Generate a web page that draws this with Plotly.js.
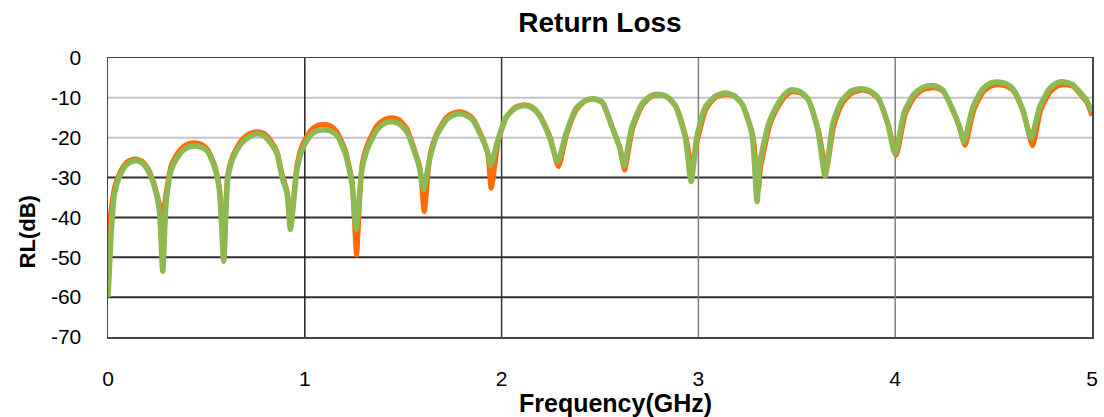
<!DOCTYPE html>
<html>
<head>
<meta charset="utf-8">
<script src="https://cdn.plot.ly/plotly-3.0.1.min.js"></script>
<style>html,body{margin:0;padding:0;background:#fff;}#chart{width:1104px;height:417px;}</style>
</head>
<body>
<div id="chart"></div>
<script>
// Orange series (frequency GHz, return loss dB)
const orangeFreq = [0,0.008,0.016,0.033,0.058,0.092,0.12,0.146,0.175,0.202,0.236,0.261,0.278,0.295,0.321,0.354,0.388,0.418,0.448,0.48,0.507,0.541,0.566,0.588,0.608,0.634,0.676,0.718,0.76,0.795,0.828,0.859,0.884,0.91,0.93,0.96,0.986,1.028,1.06,1.095,1.13,1.163,1.206,1.24,1.263,1.29,1.316,1.366,1.405,1.443,1.48,1.519,1.561,1.585,1.607,1.637,1.67,1.718,1.75,1.786,1.82,1.854,1.905,1.93,1.947,1.985,2.025,2.07,2.118,2.157,2.195,2.246,2.289,2.33,2.38,2.422,2.465,2.512,2.564,2.603,2.625,2.665,2.716,2.758,2.801,2.843,2.886,2.937,2.968,2.996,3.039,3.089,3.139,3.183,3.225,3.277,3.305,3.316,3.345,3.365,3.408,3.444,3.475,3.519,3.56,3.611,3.65,3.688,3.73,3.78,3.83,3.874,3.915,3.966,4.005,4.052,4.102,4.145,4.186,4.22,4.248,4.298,4.33,4.355,4.4,4.451,4.49,4.527,4.565,4.603,4.654,4.698,4.74,4.79,4.826,4.866,4.905,4.942,4.975,5.0];
const orangeRL = [-48,-42,-38,-32.5,-29,-26.3,-25.5,-25.4,-26,-27.6,-31.8,-36.5,-40,-34,-27,-23.8,-22,-21.4,-21.3,-21.8,-23,-26.8,-32.5,-47,-29.5,-24.5,-20.8,-19,-18.5,-19,-20.8,-23.5,-29,-33.5,-41,-27,-22,-18.3,-17,-16.7,-17,-18.5,-23.2,-31,-49.4,-27,-22,-17,-15.4,-15,-15.5,-17.8,-23.5,-27.5,-38.5,-24,-19,-15,-13.9,-13.5,-13.9,-15.2,-20.3,-24,-32.7,-20.6,-14.8,-12.3,-11.7,-12.3,-14.4,-19.8,-27.3,-19.3,-13,-10.9,-10.3,-11.2,-17.6,-22.8,-28.1,-17.8,-11.8,-9.8,-9.3,-9.9,-12.2,-20,-27.5,-20.5,-12.8,-9.8,-9.1,-9.6,-11.8,-19.5,-33.1,-27.5,-20.5,-16.5,-12,-9.5,-8.5,-8.8,-10.6,-18.5,-27.7,-17,-11.5,-8.8,-8.1,-8.6,-10.3,-17,-24.4,-14,-9.5,-7.9,-7.5,-7.7,-8.6,-13.8,-17.8,-21.9,-13,-8.3,-7,-6.7,-7.1,-8.4,-14,-22,-13,-8.4,-7,-6.7,-7.2,-9.2,-11.3,-14.5];

// Green series (frequency GHz, return loss dB)
const greenFreq = [0,0.008,0.016,0.033,0.058,0.092,0.12,0.146,0.175,0.202,0.236,0.261,0.278,0.295,0.321,0.354,0.388,0.418,0.448,0.48,0.507,0.541,0.566,0.588,0.608,0.634,0.676,0.718,0.76,0.795,0.828,0.859,0.884,0.91,0.927,0.96,0.986,1.028,1.06,1.095,1.13,1.163,1.206,1.24,1.261,1.29,1.316,1.366,1.405,1.443,1.48,1.519,1.561,1.585,1.602,1.637,1.67,1.718,1.75,1.786,1.82,1.854,1.905,1.928,1.944,1.981,2.023,2.07,2.116,2.155,2.192,2.243,2.285,2.327,2.378,2.42,2.463,2.51,2.561,2.6,2.622,2.662,2.713,2.755,2.798,2.84,2.882,2.933,2.963,2.992,3.035,3.085,3.136,3.18,3.221,3.272,3.298,3.31,3.34,3.36,3.404,3.44,3.471,3.515,3.556,3.607,3.644,3.683,3.725,3.775,3.826,3.87,3.911,3.962,3.999,4.047,4.097,4.14,4.182,4.215,4.243,4.293,4.325,4.349,4.395,4.446,4.485,4.522,4.56,4.598,4.649,4.691,4.734,4.784,4.82,4.86,4.9,4.937,4.97,5.0];
const greenRL = [-60,-52,-44,-34,-29.8,-26.9,-26,-25.8,-26.4,-28.1,-32.3,-38.1,-53.5,-36.5,-28.1,-24.8,-22.9,-22.2,-22.1,-22.5,-23.5,-27.3,-33.1,-51,-30.6,-25.2,-21.5,-19.8,-19,-19.6,-21.5,-24,-29.8,-34,-43,-28.1,-23.1,-19.4,-18.3,-18,-18.3,-19.4,-24,-31.5,-43,-28.1,-23.1,-18.1,-16.4,-16,-16.5,-18.5,-24,-28,-33,-24.8,-19.5,-15.6,-14.4,-14,-14.4,-15.6,-20.6,-23.5,-27,-20.6,-14.8,-12.6,-11.9,-12.5,-14.4,-19.8,-26,-19,-12.7,-10.8,-10.2,-11,-17.3,-22.5,-27,-17.3,-11.5,-9.6,-9.1,-9.7,-11.9,-19.8,-31,-19.8,-12.3,-9.6,-8.8,-9.4,-11.5,-19,-36,-27,-19.8,-16,-11.5,-9,-8,-8.4,-10.2,-18.1,-29.6,-16.5,-11,-8.3,-7.7,-8.2,-9.8,-16.5,-24,-13.5,-9,-7.4,-6.9,-7.2,-8.1,-13.1,-17,-21,-12.3,-7.7,-6.3,-6,-6.4,-7.7,-13.1,-20.2,-12.3,-7.7,-6.3,-6,-6.6,-8.5,-10.5,-13.5];

const yTicks = [0,-10,-20,-30,-40,-50,-60,-70];
const xTicks = [0,1,2,3,4,5];

// gridlines drawn as shapes (different shades as in the reference)
const hGridColor = {"-10":"#c4c4c4","-20":"#c4c4c4","-30":"#2e2e2e","-40":"#2e2e2e","-50":"#2e2e2e","-60":"#2e2e2e"};
const vGridColor = {"1":"#222222","2":"#333333","3":"#808080","4":"#808080"};
const shapes = [];
yTicks.filter(v => v < 0 && v > -70).forEach(v => shapes.push({type:'line',xref:'paper',x0:0,x1:1,yref:'y',y0:v,y1:v,layer:'below',line:{color:hGridColor[String(v)],width:2}}));
xTicks.filter(v => v > 0 && v < 5).forEach(v => shapes.push({type:'line',yref:'paper',y0:0,y1:1,xref:'x',x0:v,x1:v,layer:'below',line:{color:vGridColor[String(v)],width:1.5}}));

const traces = [
  {x: orangeFreq, y: orangeRL, type:'scatter', mode:'lines', name:'Orange', line:{color:'#ff6a0a', width:5, shape:'spline', smoothing:0.6}},
  {x: greenFreq, y: greenRL, type:'scatter', mode:'lines', name:'Green', line:{color:'#8db852', width:5.5, shape:'spline', smoothing:0.6}}
];

const layout = {
  width:1104, height:417,
  margin:{l:108, r:12, t:58, b:80},
  paper_bgcolor:'#fff', plot_bgcolor:'#fff',
  showlegend:false,
  font:{family:'Liberation Sans, Arial, sans-serif', color:'#000'},
  title:{text:'<b>Return Loss</b>', xref:'paper', x:0.5, xanchor:'center', y:0.947, yanchor:'middle', font:{size:28, color:'#000'}},
  xaxis:{range:[0,5], tickvals:xTicks, ticktext:xTicks.map(String), showgrid:false, zeroline:false,
         showline:true, mirror:true, linecolor:'#444', linewidth:1.5,
         ticks:'outside', ticklen:22, tickcolor:'rgba(0,0,0,0)', tickfont:{size:21}},
  yaxis:{range:[-70,0], tickvals:yTicks, ticktext:yTicks.map(String), showgrid:false, zeroline:false,
         showline:true, mirror:true, linecolor:'#444', linewidth:1.5,
         ticks:'outside', ticklen:21, tickcolor:'rgba(0,0,0,0)', tickfont:{size:21}},
  annotations:[
    {text:'<b>Frequency(GHz)</b>', xref:'paper', yref:'paper', x:0.516, y:-0.237, xanchor:'center', yanchor:'middle', showarrow:false, font:{size:25}},
    {text:'<b>RL(dB)</b>', xref:'paper', yref:'paper', x:-0.082, y:0.376, xanchor:'center', yanchor:'middle', textangle:-90, showarrow:false, font:{size:22}}
  ],
  shapes: shapes
};

Plotly.newPlot('chart', traces, layout, {staticPlot:true, displayModeBar:false});
</script>
</body>
</html>
